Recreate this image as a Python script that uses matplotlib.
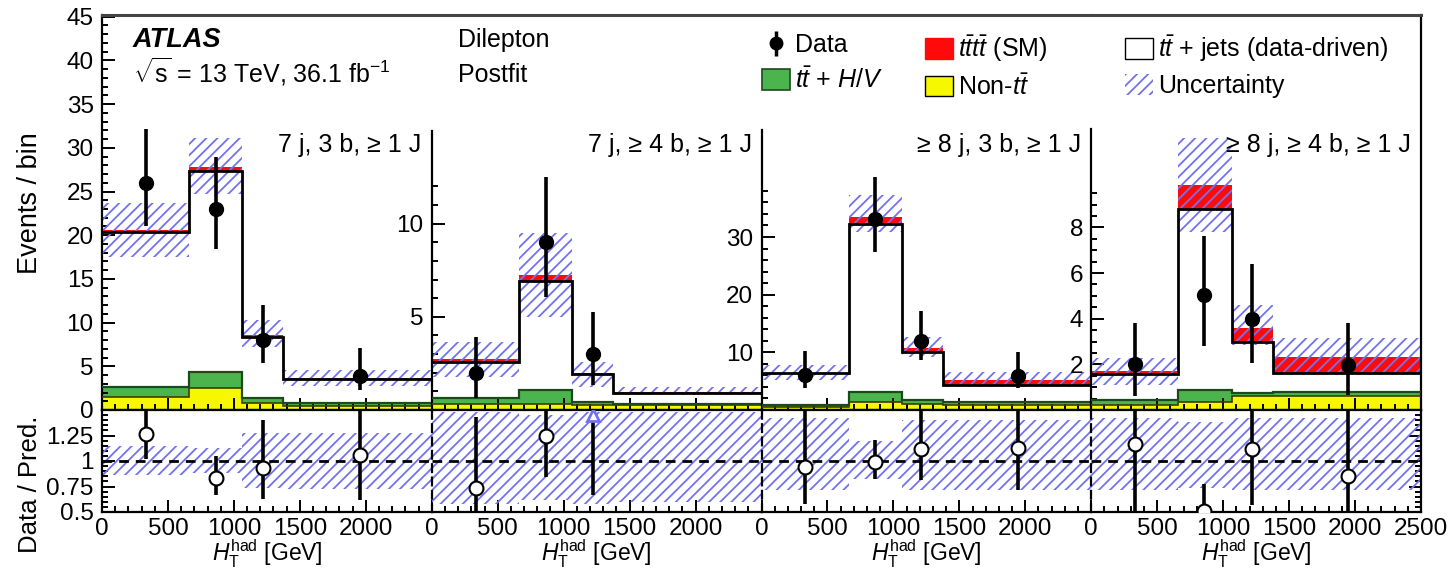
import numpy as np
import matplotlib
matplotlib.use('Agg')
import matplotlib.pyplot as plt
from matplotlib.lines import Line2D
from matplotlib.patches import Patch
from matplotlib.ticker import FixedLocator, FuncFormatter
from matplotlib.legend_handler import HandlerTuple

plt.rcParams['font.family'] = ['Liberation Sans', 'DejaVu Sans']
plt.rcParams['mathtext.fontset'] = 'custom'
plt.rcParams['mathtext.rm'] = 'Liberation Sans'
plt.rcParams['mathtext.it'] = 'Liberation Sans:italic'
plt.rcParams['mathtext.bf'] = 'Liberation Sans:bold'
plt.rcParams['hatch.linewidth'] = 1.3

# ---------------- data (events / bin) ----------------
edges = [0, 660, 1065, 1375, 2500]
regions = ['7 j, 3 b, \u2265 1 J', '7 j, \u2265 4 b, \u2265 1 J',
           '\u2265 8 j, 3 b, \u2265 1 J', '\u2265 8 j, \u2265 4 b, \u2265 1 J']

non_tt = [[1.5, 2.5, 0.8, 0.5],
          [0.30, 0.30, 0.25, 0.25],
          [0.50, 1.40, 1.10, 0.85],
          [0.22, 0.36, 0.60, 0.60]]
tt_hv = [[1.1, 1.9, 0.6, 0.3],
         [0.33, 0.77, 0.20, 0.07],
         [0.40, 1.67, 0.60, 0.59],
         [0.22, 0.52, 0.16, 0.20]]
tt_jets = [[17.8, 22.9, 7.0, 2.8],
           [1.97, 5.83, 1.48, 0.61],
           [5.46, 29.23, 8.30, 2.89],
           [1.14, 7.92, 2.23, 0.84]]
tttt = [[0.20, 0.45, 0.15, 0.10],
        [0.12, 0.32, 0.07, 0.03],
        [0.10, 1.10, 0.70, 0.90],
        [0.14, 1.05, 0.60, 0.66]]
unc_hi = [[23.7, 31.1, 10.3, 4.6],
          [3.66, 9.5, 2.6, 1.25],
          [7.8, 37.3, 12.6, 6.6],
          [2.26, 11.9, 4.6, 3.14]]
unc_lo = [[17.5, 24.7, 7.2, 2.7],
          [1.78, 5.0, 1.25, 0.80],
          [5.2, 30.9, 9.2, 4.0],
          [1.10, 7.8, 2.85, 1.53]]
# uncertainty band shown in the Data / Pred. panels
ratio_unc_hi = [[1.15, 1.13, 1.27, 1.27],
                [1.48, 1.45, 1.48, 1.48],
                [1.42, 1.20, 1.40, 1.40],
                [1.42, 1.38, 1.42, 1.42]]
ratio_unc_lo = [[0.86, 0.88, 0.74, 0.73],
                [0.58, 0.62, 0.58, 0.60],
                [0.72, 0.82, 0.72, 0.72],
                [0.72, 0.74, 0.72, 0.72]]

data_x = [[330, 866, 1218, 1954],
          [337, 866, 1224, np.nan],
          [327, 858, 1211, 1944],
          [329, 858, 1216, 1944]]
data_y = [[26.0, 23.0, 8.0, 3.9],
          [2.0, 9.0, 3.0, np.nan],
          [6.07, 33.2, 12.0, 5.9],
          [2.0, 5.04, 4.0, 1.97]]
data_up = [[32.2, 29.0, 12.0, 7.1],
           [3.9, 12.5, 5.25, np.nan],
           [10.3, 40.4, 17.2, 10.1],
           [3.82, 7.6, 6.4, 3.8]]
data_dn = [[21.0, 18.4, 5.4, 2.3],
           [0.64, 6.07, 1.34, np.nan],
           [3.75, 27.4, 8.67, 3.75],
           [0.63, 2.8, 2.05, 0.66]]

# ---------------- layout ----------------
W, H = 1451, 569
fig = plt.figure(figsize=(W / 100, H / 100), dpi=100)
X0, X1 = 102, 1421
PW = (X1 - X0) / 4
YT, YM, YB = 15, 410, 512
main_top = [45.2, 21.2, 68.5, 17.3]
spine_top = [45.2, 15.0, 48.5, 12.3]
major_ticks = [list(range(0, 46, 5)), [5, 10], [10, 20, 30], [2, 4, 6, 8]]
minor_ticks = [list(range(0, 46)), list(range(1, 13)), list(range(2, 39, 2)),
               list(np.arange(0.5, 9.6, 0.5))]


def rect(l, t, w, h):
    return [l / W, 1 - (t + h) / H, w / W, h / H]


C_Y = '#f7f700'
C_G = '#4cb44c'
C_R = '#ff0a0a'
C_H = '#7272f0'
FS = 18
FT = 17.5
fmt = FuncFormatter(lambda v, p: f'{v:g}')

for i in range(4):
    left = X0 + i * PW
    ax = fig.add_axes(rect(left, YT, PW, YM - YT))
    rx = fig.add_axes(rect(left, YM, PW, YB - YM))
    e = np.array(edges, float)
    y = np.array(non_tt[i])
    g = y + np.array(tt_hv[i])
    w = g + np.array(tt_jets[i])
    r = w + np.array(tttt[i])
    hi = np.array(unc_hi[i])
    lo = np.array(unc_lo[i])

    ax.stairs(y, e, baseline=0, fill=True, color=C_Y, lw=0, zorder=1)
    ax.stairs(g, e, baseline=y, fill=True, color=C_G, lw=0, zorder=1)
    ax.stairs(w, e, baseline=g, fill=True, color='white', lw=0, zorder=1)
    ax.stairs(r, e, baseline=w, fill=True, color=C_R, lw=0, zorder=1)
    ax.stairs(hi, e, baseline=lo, fill=True, facecolor='none', edgecolor=C_H,
              hatch='///', linewidth=0, zorder=2)
    ax.stairs(y, e, baseline=None, color='#3d3d00', lw=1.2, zorder=3)
    ax.stairs(g, e, baseline=None, color='#1d4a1d', lw=1.6, zorder=3)
    ax.stairs(w, e, baseline=None, color='black', lw=2.0, zorder=3)

    dx = np.array(data_x[i], float)
    dy = np.array(data_y[i], float)
    du = np.array(data_up[i], float)
    dd = np.array(data_dn[i], float)
    m = ~np.isnan(dy)
    ax.errorbar(dx[m], dy[m], yerr=[dy[m] - dd[m], du[m] - dy[m]], fmt='o',
                color='black', ms=10, elinewidth=2.6, capsize=0, zorder=5)

    # ratio
    ratio = dy / r
    rup = du / r
    rdn = dd / r
    rx.stairs(ratio_unc_hi[i], e, baseline=ratio_unc_lo[i], fill=True,
              facecolor='none', edgecolor=C_H, hatch='///', linewidth=0, zorder=2)
    rx.axhline(1.0, color='black', ls=(0, (3.5, 2.5)), lw=2.0, zorder=3)
    off = m & (ratio > 1.45)
    ok = m & ~off
    rx.errorbar(dx[ok], ratio[ok], yerr=[ratio[ok] - rdn[ok], rup[ok] - ratio[ok]],
                fmt='o', color='black', mfc='white', mec='black', mew=1.5,
                ms=10, elinewidth=2.6, capsize=0, zorder=5)
    if off.any():
        rx.vlines(dx[off], rdn[off], 1.5, color='black', lw=2.6, zorder=4)
        rx.plot(dx[off], np.full(off.sum(), 1.455), ls='none', marker='^',
                ms=9, mfc='white', mec=C_H, mew=2.0, zorder=6)

    for a in (ax, rx):
        a.set_xlim(0, 2500)
        a.xaxis.set_major_locator(FixedLocator(range(0, 2501, 500)))
        a.xaxis.set_minor_locator(FixedLocator(range(0, 2501, 100)))
        a.tick_params(axis='both', which='both', direction='in', width=1.4,
                      labelsize=FT, top=False)
        a.tick_params(which='major', length=9)
        a.tick_params(which='minor', length=4.5)
        for s in a.spines.values():
            s.set_linewidth(1.6)
        a.spines['right'].set_visible(i == 3)

    ax.set_ylim(0, main_top[i])
    ax.tick_params(axis='x', labelbottom=False)
    ax.yaxis.set_major_locator(FixedLocator(major_ticks[i]))
    ax.yaxis.set_minor_locator(FixedLocator(minor_ticks[i]))
    ax.yaxis.set_major_formatter(fmt)
    ax.tick_params(axis='y', pad=6)
    ax.spines['left'].set_bounds(0, spine_top[i])
    ax.spines['top'].set_color('#444444')
    ax.spines['top'].set_linewidth(2.2)
    if i == 3:
        ax.tick_params(axis='y', right=False)
    ax.text(1 - 10 / PW, (YM - 152) / (YM - YT), regions[i], transform=ax.transAxes,
            ha='right', va='baseline', fontsize=FS)

    rx.set_ylim(0.5, 1.5)
    rx.yaxis.set_major_locator(FixedLocator([0.5, 0.75, 1.0, 1.25]))
    rx.yaxis.set_minor_locator(FixedLocator(list(np.arange(0.5, 1.5, 0.05))))
    rx.yaxis.set_major_formatter(fmt)
    if i == 0:
        rx.tick_params(axis='y', pad=6)
    else:
        rx.spines['left'].set_linestyle((0, (3.5, 2.5)))
        rx.tick_params(axis='y', which='both', left=False, labelleft=False)
    if i == 3:
        rx.tick_params(axis='y', which='both', right=True, labelright=False)
        labels = ['0', '500', '1000', '1500', '2000', '2500']
    else:
        labels = ['0', '500', '1000', '1500', '2000', '']
    rx.set_xticks(list(range(0, 2501, 500)), labels)
    rx.tick_params(axis='x', pad=4)
    rx.text(0.5, (YB - 561) / (YB - YM), r'$H_{\mathrm{T}}^{\mathrm{had}}$ [GeV]',
            transform=rx.transAxes, ha='center', va='baseline', fontsize=16.5,
            clip_on=False)

# ---------------- texts ----------------
fig.text(133 / W, 1 - 47 / H, 'ATLAS', fontsize=19.5, weight='bold', style='italic',
         va='baseline')
fig.text(133 / W, 1 - 82 / H, r'$\sqrt{\mathrm{s}}$ = 13 TeV, 36.1 fb$^{\mathrm{-1}}$',
         fontsize=FS, va='baseline')
fig.text(458 / W, 1 - 47 / H, 'Dilepton', fontsize=FS, va='baseline')
fig.text(458 / W, 1 - 82 / H, 'Postfit', fontsize=FS, va='baseline')
fig.text(30 / W, 1 - 203 / H, 'Events / bin', rotation=90, ha='center', va='center',
         fontsize=19.5)
fig.text(30 / W, 1 - 484 / H, 'Data / Pred.', rotation=90, ha='center', va='center',
         fontsize=18.5)

# ---------------- legend ----------------
h_data = (Line2D([], [], marker='o', color='black', ls='none', ms=9),
          Line2D([], [], marker='|', color='black', ls='none', ms=18, mew=2.5))
h_hv = Patch(facecolor=C_G, edgecolor='#1d4a1d', lw=1.2)
h_4t = Patch(facecolor=C_R, edgecolor=C_R, lw=1.0)
h_non = Patch(facecolor=C_Y, edgecolor='black', lw=1.0)
h_ttj = Patch(facecolor='white', edgecolor='black', lw=1.0)
h_unc = Patch(facecolor='none', edgecolor=C_H, hatch='///', lw=0)
cols = [([h_data, h_hv], ['Data', r'$t\bar{t}$ + $H/V$'], 762),
        ([h_4t, h_non], [r'$t\bar{t}t\bar{t}$ (SM)', r'Non-$t\bar{t}$'], 925),
        ([h_ttj, h_unc], [r'$t\bar{t}$ + jets (data-driven)', 'Uncertainty'], 1125)]
for hs, ls_, xpx in cols:
    fig.legend(hs, ls_, loc='upper left', bbox_to_anchor=(xpx / W, 1 - 33 / H),
               frameon=False, fontsize=FS, handlelength=1.12, handleheight=0.9,
               handletextpad=0.2, labelspacing=0.4, borderpad=0, borderaxespad=0,
               handler_map={tuple: HandlerTuple(ndivide=1)})

fig.savefig('out.png', dpi=100)
